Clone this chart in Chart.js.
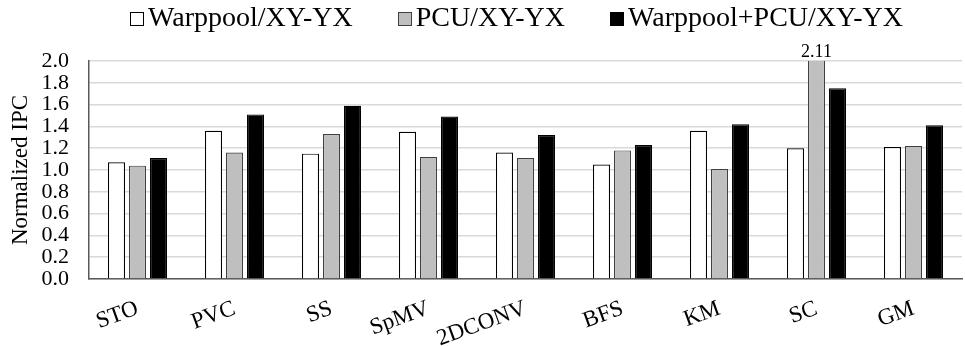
<!DOCTYPE html>
<html>
<head>
<meta charset="utf-8">
<script src="https://cdn.jsdelivr.net/npm/chart.js@4"></script>
<style>
  html, body { margin: 0; padding: 0; background: #fff; overflow: hidden; }
  #wrap { position: relative; width: 965px; height: 346px; overflow: hidden; }
  #legend {
    position: absolute; top: 0; left: 34px; width: 965px;
    display: flex; justify-content: center; gap: 45px;
    font-family: 'Liberation Serif', 'Times New Roman', serif;
    font-size: 28px; line-height: 34px; color: #000;
  }
  #legend span.item { display: flex; align-items: center; }
  #legend span.box {
    display: inline-block; width: 12px; height: 12px;
    border: 1px solid #000; margin-right: 4px; margin-top: 3px;
  }
</style>
</head>
<body>
<div id="wrap">
  <canvas id="chart"></canvas>
  <div id="legend"></div>
</div>
<script>
// Данные графика
var categories = ['STO', 'PVC', 'SS', 'SpMV', '2DCONV', 'BFS', 'KM', 'SC', 'GM'];
var warppool = [1.07, 1.36, 1.15, 1.35, 1.16, 1.05, 1.36, 1.20, 1.21];
var pcu = [1.04, 1.16, 1.33, 1.12, 1.11, 1.18, 1.01, 2.11, 1.22];
var warppoolPcu = [1.11, 1.51, 1.59, 1.49, 1.32, 1.23, 1.42, 1.75, 1.41];
var seriesNames = ['Warppool/XY-YX', 'PCU/XY-YX', 'Warppool+PCU/XY-YX'];
var yTicks = [0.0, 0.2, 0.4, 0.6, 0.8, 1.0, 1.2, 1.4, 1.6, 1.8, 2.0];

var fills = ['#ffffff', '#bfbfbf', '#000000'];
var borders = ['#000000', '#404040', '#000000'];
var serif = "'Liberation Serif', 'Times New Roman', serif";

// Подпись значений, выходящих за верх оси
var overflowLabels = {
    id: 'overflowLabels',
    afterDatasetsDraw: function (chart) {
        var ctx = chart.ctx;
        var yMax = chart.scales.y.max;
        ctx.save();
        ctx.font = '18px ' + serif;
        ctx.fillStyle = '#000';
        ctx.textAlign = 'center';
        ctx.textBaseline = 'alphabetic';
        chart.data.datasets.forEach(function (ds, i) {
            var meta = chart.getDatasetMeta(i);
            ds.data.forEach(function (v, j) {
                if (v > yMax) {
                    ctx.fillText(v.toFixed(2), meta.data[j].x, chart.chartArea.top - 4);
                }
            });
        });
        ctx.restore();
    }
};

var chart = new Chart(document.getElementById('chart').getContext('2d'), {
    type: 'bar',
    data: {
        labels: categories,
        datasets: seriesNames.map(function (name, i) {
            return {
                label: name,
                data: [warppool, pcu, warppoolPcu][i],
                backgroundColor: fills[i],
                borderColor: borders[i],
                borderWidth: 1.2
            };
        })
    },
    options: {
        responsive: true,
        maintainAspectRatio: false,
        animation: false,
        categoryPercentage: 0.65,
        barPercentage: 0.81,
        layout: { padding: { left: 0, right: 3, top: 61, bottom: 0 } },
        plugins: {
            legend: { display: false },
            tooltip: { enabled: false }
        },
        scales: {
            x: {
                grid: { display: false, drawTicks: false },
                border: { color: '#595959', width: 1.5 },
                afterFit: function (axis) { axis.height = 67; },
                ticks: {
                    font: { family: serif, size: 23 },
                    color: '#000',
                    minRotation: 20,
                    maxRotation: 20,
                    padding: 16
                }
            },
            y: {
                min: 0,
                max: 2,
                afterBuildTicks: function (axis) {
                    axis.ticks = yTicks.map(function (v) { return { value: v }; });
                },
                afterFit: function (axis) { axis.width = 89; },
                grid: { color: '#d9d9d9', lineWidth: 1.5, drawTicks: false },
                border: { color: '#595959', width: 1.5 },
                ticks: {
                    font: { family: serif, size: 22, lineHeight: 1 },
                    color: '#000',
                    padding: 20,
                    autoSkip: false,
                    callback: function (v) { return Number(v).toFixed(1); }
                },
                title: {
                    display: true,
                    text: 'Normalized IPC',
                    font: { family: serif, size: 23 },
                    color: '#000',
                    padding: { top: 7, bottom: 0 }
                }
            }
        }
    },
    plugins: [overflowLabels]
});

// Легенда (как в исходном рисунке: маленький квадрат вплотную к тексту)
var legendEl = document.getElementById('legend');
seriesNames.forEach(function (name, i) {
    var item = document.createElement('span');
    item.className = 'item';
    var box = document.createElement('span');
    box.className = 'box';
    box.style.background = fills[i];
    box.style.borderColor = i === 1 ? '#404040' : '#000';
    item.appendChild(box);
    item.appendChild(document.createTextNode(name));
    legendEl.appendChild(item);
});
</script>
</body>
</html>
